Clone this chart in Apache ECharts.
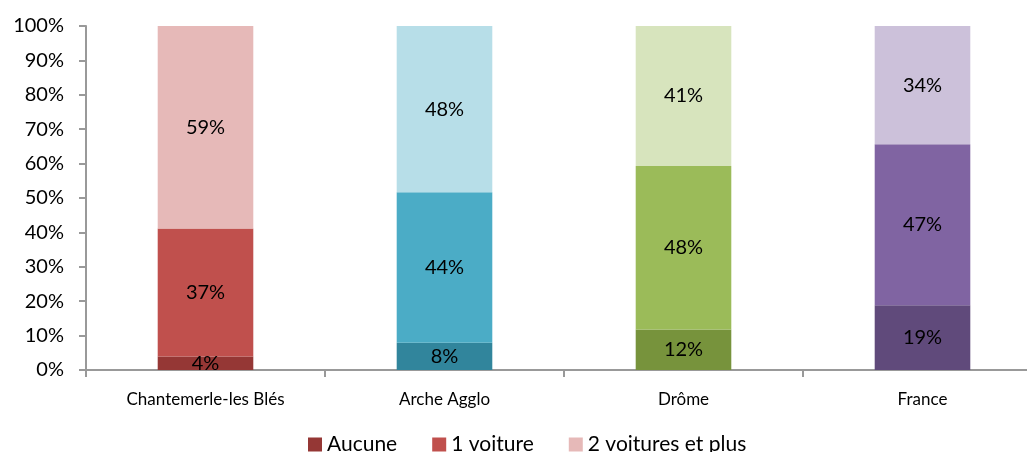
<!DOCTYPE html>
<html>
<head>
<meta charset="utf-8">
<script src="https://cdn.jsdelivr.net/npm/echarts@6/dist/echarts.min.js"></script>
<style>
html, body { margin: 0; padding: 0; background: #fff; }
#main { width: 1027px; height: 452px; }
</style>
</head>
<body>
<div id="main"></div>
<script>
// categories & values (% of households by number of cars)
var categories = ['Chantemerle-les Blés', 'Arche Agglo', 'Drôme', 'France'];
var seriesNames = ['Aucune', '1 voiture', '2 voitures et plus'];
var aucune = [3.9, 7.9, 11.8, 18.8];
var uneVoiture = [37.2, 43.8, 47.5, 46.8];
var deuxPlus = [58.9, 48.3, 40.7, 34.4];
var yTicks = [0, 10, 20, 30, 40, 50, 60, 70, 80, 90, 100];

// colours per category (dark / mid / light)
var darkColors = ['#953735', '#31859C', '#77933C', '#604A7B'];
var midColors = ['#C0504D', '#4BACC6', '#9BBB59', '#8064A2'];
var lightColors = ['#E6B9B8', '#B7DEE8', '#D7E4BD', '#CCC1DA'];

var font = 'Lato, "Open Sans", sans-serif';

function makeData(values, colors) {
    return values.map(function (v, i) {
        return { value: v, itemStyle: { color: colors[i] } };
    });
}

function makeSeries(name, values, colors) {
    return {
        name: name,
        type: 'bar',
        stack: 'total',
        barWidth: '40%',
        itemStyle: { color: colors[0] },
        label: {
            show: true,
            position: 'inside',
            color: '#000',
            fontFamily: font,
            fontSize: 20,
            formatter: function (p) { return Math.round(p.value) + '%'; }
        },
        data: makeData(values, colors)
    };
}

var chart = echarts.init(document.getElementById('main'));
chart.setOption({
    animation: false,
    grid: { left: 86, width: 956, top: 26, bottom: 82, outerBoundsMode: 'none' },
    legend: {
        bottom: -8,
        left: 303,
        itemWidth: 14,
        itemHeight: 14,
        itemGap: 35,
        icon: 'rect',
        textStyle: { fontFamily: font, fontSize: 21, color: '#000' },
        data: seriesNames
    },
    xAxis: {
        type: 'category',
        data: categories,
        axisLine: { lineStyle: { color: '#999', width: 2 } },
        axisTick: { show: true, length: 7, lineStyle: { color: '#999', width: 2 } },
        axisLabel: { fontFamily: font, fontSize: 17, color: '#000', margin: 21 }
    },
    yAxis: {
        type: 'value',
        min: 0,
        max: 100,
        interval: 10,
        axisLine: { show: true, lineStyle: { color: '#999', width: 2 } },
        axisTick: { show: true, length: 7, lineStyle: { color: '#999', width: 2 } },
        splitLine: { show: false },
        axisLabel: {
            fontFamily: font, fontSize: 20, color: '#000', margin: 22,
            formatter: function (v) { return yTicks.indexOf(v) >= 0 ? v + '%' : ''; }
        }
    },
    series: [
        makeSeries(seriesNames[0], aucune, darkColors),
        makeSeries(seriesNames[1], uneVoiture, midColors),
        makeSeries(seriesNames[2], deuxPlus, lightColors)
    ]
});
</script>
</body>
</html>
